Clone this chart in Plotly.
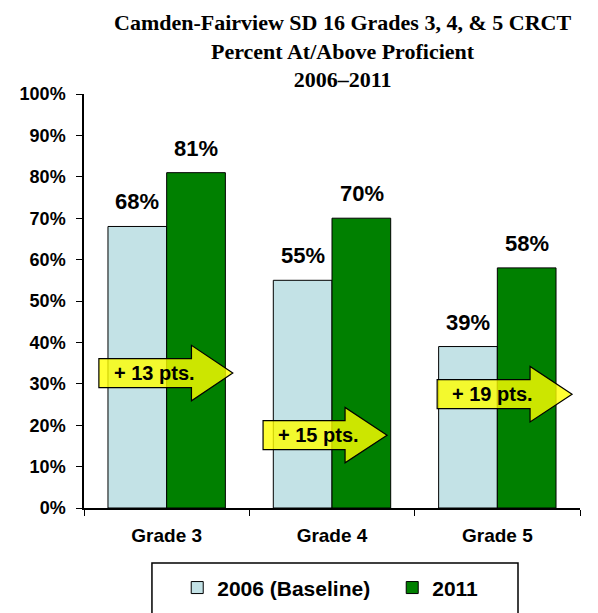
import plotly.graph_objects as go

categories = ["Grade 3", "Grade 4", "Grade 5"]
baseline_2006 = [68, 55, 39]
values_2011 = [81, 70, 58]
gain_labels = ["+ 13 pts.", "+ 15 pts.", "+ 19 pts."]
y_ticks = [0, 10, 20, 30, 40, 50, 60, 70, 80, 90, 100]

# arrow placement (category-index units for x, percent for y)
arrow_x0 = [-0.41, 0.583, 1.636]
arrow_xh = [0.15, 1.079, 2.198]
arrow_x1 = [0.40, 1.333, 2.452]
arrow_yc = [32.6, 17.6, 27.5]
BODY_H = 3.5
HEAD_H = 6.7

LIGHT = "#C3E2E6"
GREEN = "#008000"
FONT = "Liberation Sans, Arial, sans-serif"
BAR_HALF_PX = 29.5

fig = go.Figure()
fig.add_bar(x=categories, y=baseline_2006, name="<b>2006 (Baseline)</b>",
            marker=dict(color=LIGHT, line=dict(color="black", width=1)),
            legendwidth=170)
fig.add_bar(x=categories, y=values_2011, name="<b>2011</b>",
            marker=dict(color=GREEN, line=dict(color="black", width=1)))

for series, shift in ((baseline_2006, -BAR_HALF_PX), (values_2011, BAR_HALF_PX)):
    for c, v in zip(categories, series):
        fig.add_annotation(x=c, y=v, xref="x", yref="y", text=f"<b>{v}%</b>",
                           showarrow=False, xanchor="center", yanchor="bottom",
                           xshift=shift, yshift=10,
                           font=dict(family=FONT, size=22, color="black"))

for x0, xh, x1, yc, lab in zip(arrow_x0, arrow_xh, arrow_x1, arrow_yc, gain_labels):
    path = (f"M {x0},{yc-BODY_H} L {xh},{yc-BODY_H} L {xh},{yc-HEAD_H} L {x1},{yc} "
            f"L {xh},{yc+HEAD_H} L {xh},{yc+BODY_H} L {x0},{yc+BODY_H} Z")
    fig.add_shape(type="path", path=path, xref="x", yref="y",
                  fillcolor="rgba(255,255,0,0.8)", line=dict(color="black", width=1.2),
                  layer="above")
    fig.add_annotation(x=x0, y=yc, xref="x", yref="y", text=f"<b>{lab}</b>",
                       showarrow=False, xanchor="left", yanchor="middle", xshift=13,
                       font=dict(family=FONT, size=20, color="black"))

# title
fig.add_annotation(x=0.522, y=1.208, xref="paper", yref="paper", xanchor="center",
                   yanchor="top", showarrow=False,
                   text="<b>Camden-Fairview SD 16 Grades 3, 4, &amp; 5 CRCT<br>Percent At/Above Proficient<br>2006–2011</b>",
                   font=dict(family="Liberation Serif, Times New Roman, serif", size=22, color="black"))

# legend box
fig.add_shape(type="rect", xref="paper", yref="paper", x0=0.137, x1=0.875,
              y0=-0.283, y1=-0.1329, line=dict(color="black", width=1.5),
              fillcolor="rgba(0,0,0,0)")

fig.update_layout(
    width=598, height=613,
    margin=dict(l=76, r=26, t=86, b=113, autoexpand=False),
    paper_bgcolor="white", plot_bgcolor="white",
    barmode="group", bargap=0.29, bargroupgap=0,
    font=dict(family=FONT, color="black"),
    showlegend=True,
    legend=dict(orientation="h", x=0.283, xanchor="left", xref="container",
                y=0.054, yanchor="middle", yref="container",
                font=dict(family=FONT, size=21, color="black"),
                bgcolor="rgba(0,0,0,0)", borderwidth=0),
    xaxis=dict(showline=True, linecolor="black", linewidth=1.5, tickson="boundaries",
               ticks="outside", ticklen=6, tickcolor="black", automargin=False,
               ticklabelstandoff=9,
               tickfont=dict(family=FONT, size=19, color="black"),
               tickprefix="<b>", ticksuffix="</b>"),
    yaxis=dict(range=[0, 100], tickvals=y_ticks, ticktext=[f"<b>{v}%</b>" for v in y_ticks],
               showline=True, linecolor="black", linewidth=1.5, showgrid=False,
               ticks="outside", ticklen=6, tickcolor="black", zeroline=False,
               automargin=False, ticklabelstandoff=7,
               tickfont=dict(family=FONT, size=18, color="black")),
)

fig.write_html("out.html")
